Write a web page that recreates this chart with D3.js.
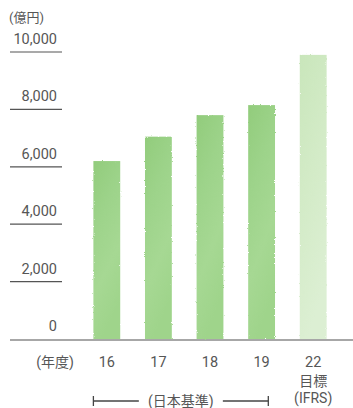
<!DOCTYPE html>
<html>
<head>
<meta charset="utf-8">
<script src="https://cdn.jsdelivr.net/npm/d3@7/dist/d3.min.js"></script>
<style>
  html, body { margin: 0; padding: 0; background: #fff; }
  svg { display: block; }
  text { font-family: Roboto, "Noto Sans CJK JP", sans-serif; fill: #565656; }
</style>
</head>
<body>
<svg id="chart" width="353" height="408"></svg>
<script>
// Fiscal years and revenue (100 million yen)
const years = ["16", "17", "18", "19", "22"];
const values = [6200, 7050, 7800, 8150, 9900];
const isTarget = [false, false, false, false, true];
const yTicks = [0, 2000, 4000, 6000, 8000, 10000];
const unitLabel = "(億円)";
const yearLabel = "(年度)";
const targetLines = ["目標", "(IFRS)"];
const standardLabel = "(日本基準)";

const svg = d3.select("#chart");
const baseY = 339, topY = 52;
const y = d3.scaleLinear().domain([0, 10000]).range([baseY, topY]);
const x = d3.scaleBand().domain(years).range([81, 339]).paddingInner(0.48).paddingOuter(0.24);

// watercolour-ish texture and ragged edges
const defs = svg.append("defs");
const f = defs.append("filter").attr("id", "rough")
  .attr("x", "-10%").attr("y", "-10%").attr("width", "120%").attr("height", "120%");
f.append("feTurbulence").attr("type", "fractalNoise").attr("baseFrequency", 0.9)
  .attr("numOctaves", 2).attr("seed", 3).attr("result", "noise");
f.append("feDisplacementMap").attr("in", "SourceGraphic").attr("in2", "noise")
  .attr("scale", 2.2).attr("xChannelSelector", "R").attr("yChannelSelector", "G");

function grad(id, stops) {
  const g = defs.append("linearGradient").attr("id", id)
    .attr("x1", 0).attr("y1", 0).attr("x2", 0.3).attr("y2", 1);
  stops.forEach(([o, c]) => g.append("stop").attr("offset", o).attr("stop-color", c));
}
grad("gActual", [[0, "#92cc7c"], [0.35, "#9dd38a"], [0.7, "#a6d893"], [1, "#9fd48b"]]);
grad("gTarget", [[0, "#c9e6bb"], [0.5, "#d3ebc7"], [1, "#dcefd3"]]);

// y-axis tick rules with labels
const ticks = svg.append("g");
ticks.selectAll("line").data(yTicks).join("line")
  .attr("x1", 10).attr("x2", d => d === 0 ? 353 : 62)
  .attr("y1", d => y(d) + (d === 0 ? 1 : 0)).attr("y2", d => y(d) + (d === 0 ? 1 : 0))
  .attr("stroke", d => d === 0 ? "#8a8a8a" : "#555")
  .attr("stroke-width", d => d === 0 ? 1.6 : 1.2);
ticks.selectAll("text").data(yTicks).join("text")
  .attr("x", 57).attr("y", d => y(d) - 8)
  .attr("text-anchor", "end").attr("font-size", 14.5)
  .text(d => d3.format(",")(d));

svg.append("text").attr("x", 9).attr("y", 22).attr("font-size", 13).text(unitLabel);

// bars
svg.append("g").attr("filter", "url(#rough)")
  .selectAll("rect").data(values).join("rect")
  .attr("x", (d, i) => x(years[i]))
  .attr("width", x.bandwidth())
  .attr("y", d => y(d))
  .attr("height", d => baseY - y(d))
  .attr("fill", (d, i) => isTarget[i] ? "url(#gTarget)" : "url(#gActual)");

// x labels
svg.append("text").attr("x", 55).attr("y", 367).attr("text-anchor", "middle")
  .attr("font-size", 14).text(yearLabel);
svg.append("g").selectAll("text").data(years).join("text")
  .attr("x", d => x(d) + x.bandwidth() / 2).attr("y", 367)
  .attr("text-anchor", "middle").attr("font-size", 14.5).text(d => d);
const last = years[years.length - 1];
svg.append("g").selectAll("text").data(targetLines).join("text")
  .attr("x", x(last) + x.bandwidth() / 2).attr("y", (d, i) => 386 + i * 17)
  .attr("text-anchor", "middle").attr("font-size", 14).text(d => d);

// bracket spanning the Japanese-GAAP years
const bx1 = x(years[0]), bx2 = x(years[3]) + x.bandwidth() * 0.75;
const by = 401, tx = (bx1 + bx2) / 2;
const br = svg.append("g").attr("stroke", "#444").attr("stroke-width", 1.3);
br.append("line").attr("x1", bx1).attr("x2", tx - 42).attr("y1", by).attr("y2", by);
br.append("line").attr("x1", tx + 42).attr("x2", bx2).attr("y1", by).attr("y2", by);
br.append("line").attr("x1", bx1).attr("x2", bx1).attr("y1", by - 5).attr("y2", by + 5);
br.append("line").attr("x1", bx2).attr("x2", bx2).attr("y1", by - 5).attr("y2", by + 5);
svg.append("text").attr("x", tx).attr("y", 406).attr("text-anchor", "middle")
  .attr("font-size", 14).text(standardLabel);
</script>
</body>
</html>
